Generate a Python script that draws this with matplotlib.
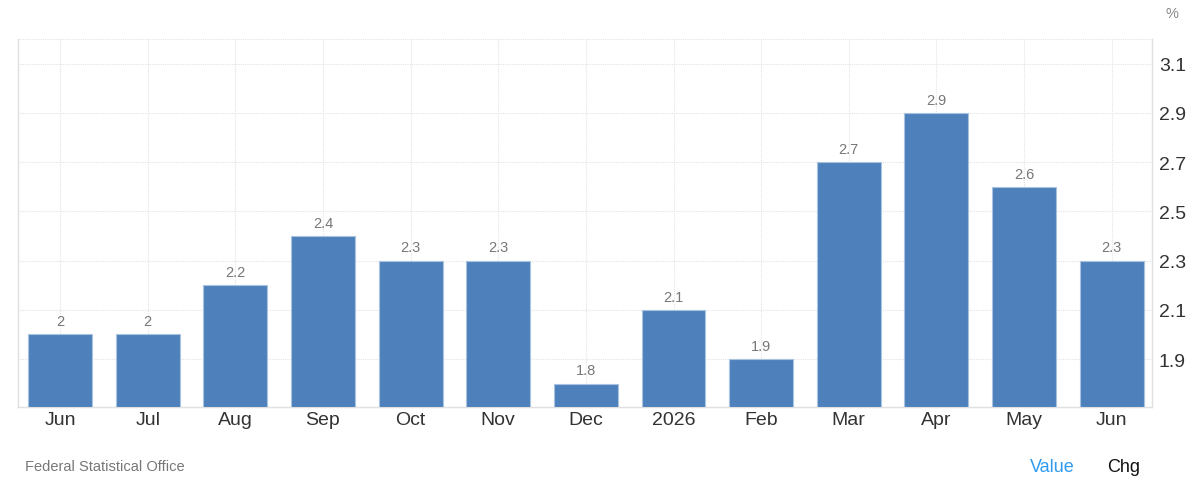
import numpy as np
import matplotlib.pyplot as plt

plt.rcParams['font.family'] = ['Liberation Sans', 'DejaVu Sans']

# data
months = ['Jun', 'Jul', 'Aug', 'Sep', 'Oct', 'Nov', 'Dec', '2026', 'Feb', 'Mar', 'Apr', 'May', 'Jun']
values = [2.0, 2.0, 2.2, 2.4, 2.3, 2.3, 1.8, 2.1, 1.9, 2.7, 2.9, 2.6, 2.3]
labels = ['2', '2', '2.2', '2.4', '2.3', '2.3', '1.8', '2.1', '1.9', '2.7', '2.9', '2.6', '2.3']
yticks = [1.9, 2.1, 2.3, 2.5, 2.7, 2.9, 3.1]

fig = plt.figure(figsize=(11.87, 4.85), dpi=100)
ax = fig.add_axes([18/1187, 77/485, (1152-18)/1187, (408-40)/485])

x = np.arange(len(months))
ymin = 1.705
bars = ax.bar(x, np.array(values) - ymin, bottom=ymin, width=0.73,
              color='#4e81bc', edgecolor='#a9c2e0', linewidth=0.8, zorder=3)

for xi, v, lab in zip(x, values, labels):
    ax.text(xi, v + 0.025, lab, ha='center', va='bottom', fontsize=10.5, color='#777777', zorder=4)

ax.set_xlim(-0.48, 12.46)
ax.set_ylim(ymin, 3.2)
ax.set_xticks(x)
ax.set_xticklabels(months, fontsize=14, color='#333333')
ax.set_yticks(yticks)
ax.set_yticklabels([f'{t:.1f}' for t in yticks], fontsize=14, color='#333333')
ax.yaxis.tick_right()
ax.tick_params(axis='both', length=0)
ax.tick_params(axis='x', pad=3)
ax.tick_params(axis='y', pad=5)

ax.grid(True, color='#e4e4e4', linestyle=(0, (1, 1)), linewidth=0.8, zorder=0)
ax.axhline(3.2, color='#e4e4e4', linestyle=(0, (1, 1)), linewidth=0.8, zorder=0)
for side in ['left', 'right', 'bottom']:
    ax.spines[side].set_color('#e0e0e0')
    ax.spines[side].set_linewidth(1.0)
ax.spines['top'].set_visible(False)

fig.text(1172/1187, 1 - 14/485, '%', fontsize=10.5, color='#888888', ha='center', va='center')
fig.text(25/1187, 1 - 467/485, 'Federal Statistical Office', fontsize=10.5, color='#777777', ha='left', va='center')
fig.text(1052/1187, 1 - 468/485, 'Value', fontsize=13, color='#2e9bf0', ha='center', va='center')
fig.text(1124/1187, 1 - 468/485, 'Chg', fontsize=13, color='#111111', ha='center', va='center')

fig.savefig('out.png', dpi=100, facecolor='white')
